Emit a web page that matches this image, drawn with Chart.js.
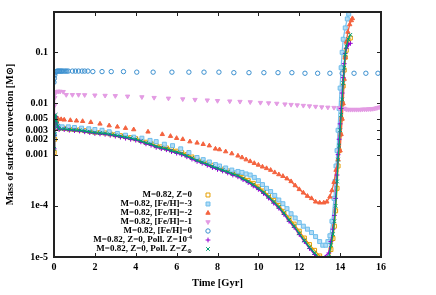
<!DOCTYPE html>
<html>
<head>
<meta charset="utf-8">
<script src="https://cdn.jsdelivr.net/npm/chart.js@4/dist/chart.umd.min.js"></script>
<style>
  html, body { margin: 0; padding: 0; background: #fff; }
  #chart { display: block; }
</style>
</head>
<body>
<canvas id="chart" width="436" height="295"></canvas>
<script>
// axis ticks
const xTicks = [0, 2, 4, 6, 8, 10, 12, 14, 16];
const yTicks = [1e-5, 1e-4, 0.001, 0.002, 0.003, 0.005, 0.01, 0.1];
const yTickLabels = ['1e-5', '1e-4', '0.001', '0.002', '0.003', '0.005', '0.01', '0.1'];

const seriesLabels = [
  'M=0.82, Z=0',
  'M=0.82, [Fe/H]=-3',
  'M=0.82, [Fe/H]=-2',
  'M=0.82, [Fe/H]=-1',
  'M=0.82, [Fe/H]=0',
  'M=0.82, Z=0, Poll. Z=10^-4',
  'M=0.82, Z=0, Poll. Z=Z_⊙'
];

// Z=0 family (shared time grid) [Gyr]
const timeZ0 = [0.01, 0.03, 0.05, 0.08, 0.12, 0.18,
  0.25, 0.5, 0.75, 1, 1.25, 1.5, 1.75, 2, 2.25, 2.5, 2.75, 3, 3.25, 3.5, 3.75, 4,
  4.25, 4.5, 4.75, 5, 5.25, 5.5, 5.75, 6, 6.25, 6.5, 6.75, 7, 7.25, 7.5, 7.75, 8,
  8.25, 8.5, 8.75, 9, 9.25, 9.5, 9.75, 10, 10.25, 10.5, 10.75, 11, 11.25, 11.5, 11.75, 12,
  12.25, 12.5, 12.75, 13,
  13.45, 13.55, 13.65, 13.72, 13.78, 13.85, 13.9, 13.95, 14, 14.05, 14.1, 14.15, 14.2, 14.25, 14.3, 14.4, 14.5];

const massZ0 = [0.0011, 0.002, 0.004, 0.0052, 0.0042, 0.0034,
  3.3e-3, 3.25e-3, 3.15e-3, 3.1e-3, 3.05e-3, 2.95e-3, 2.85e-3, 2.75e-3, 2.7e-3, 2.65e-3, 2.55e-3, 2.45e-3,
  2.35e-3, 2.25e-3, 2.15e-3, 2.05e-3, 1.9e-3, 1.75e-3, 1.65e-3, 1.5e-3, 1.42e-3, 1.35e-3, 1.25e-3, 1.17e-3,
  1.1e-3, 1.0e-3, 9.0e-4, 8.1e-4, 7.4e-4, 6.8e-4, 6.2e-4, 5.7e-4, 5.2e-4, 4.8e-4, 4.4e-4, 4.05e-4,
  3.6e-4, 3.15e-4, 2.75e-4, 2.35e-4, 1.95e-4, 1.6e-4, 1.28e-4, 1.02e-4, 7.8e-5, 5.8e-5, 4.4e-5, 3.2e-5,
  2.35e-5, 1.75e-5, 1.35e-5, 1.05e-5,
  9e-6, 1.4e-5, 2.3e-5, 4e-5, 8e-5, 2.2e-4, 6e-4, 1.2e-3, 2.5e-3, 5e-3, 1e-2, 2.2e-2, 4.5e-2, 8e-2, 0.11, 0.16, 0.19];

const massPoll4 = [0.0013, 0.0024, 0.0048, 0.0055, 0.0043, 0.0035,
  3.1e-3, 3.1e-3, 3.0e-3, 2.95e-3, 2.9e-3, 2.8e-3, 2.7e-3, 2.6e-3, 2.55e-3, 2.5e-3, 2.4e-3, 2.3e-3,
  2.2e-3, 2.1e-3, 2.0e-3, 1.92e-3, 1.78e-3, 1.63e-3, 1.53e-3, 1.39e-3, 1.31e-3, 1.25e-3, 1.15e-3, 1.07e-3,
  1.0e-3, 9.1e-4, 8.2e-4, 7.4e-4, 6.8e-4, 6.2e-4, 5.6e-4, 5.15e-4, 4.8e-4, 4.4e-4, 4.0e-4, 3.7e-4,
  3.25e-4, 2.85e-4, 2.45e-4, 2.1e-4, 1.75e-4, 1.42e-4, 1.13e-4, 9.0e-5, 6.8e-5, 5.0e-5, 3.8e-5, 2.75e-5,
  2.0e-5, 1.47e-5, 1.12e-5, 8.7e-6,
  1.2e-5, 2e-5, 3.5e-5, 6.5e-5, 1.4e-4, 4e-4, 1e-3, 2e-3, 4e-3, 8e-3, 1.6e-2, 3.2e-2, 6e-2, 9.5e-2, 0.12, 0.14, 0.15];

const massPollSun = [0.0013, 0.0025, 0.0047, 0.006, 0.0046, 0.0036,
  3.2e-3, 3.2e-3, 3.1e-3, 3.05e-3, 3.0e-3, 2.9e-3, 2.8e-3, 2.7e-3, 2.65e-3, 2.6e-3, 2.5e-3, 2.4e-3,
  2.3e-3, 2.2e-3, 2.1e-3, 2.0e-3, 1.85e-3, 1.7e-3, 1.6e-3, 1.45e-3, 1.37e-3, 1.3e-3, 1.2e-3, 1.12e-3,
  1.05e-3, 9.5e-4, 8.6e-4, 7.7e-4, 7.1e-4, 6.5e-4, 5.9e-4, 5.4e-4, 5.0e-4, 4.6e-4, 4.2e-4, 3.9e-4,
  3.4e-4, 3.0e-4, 2.6e-4, 2.2e-4, 1.85e-4, 1.5e-4, 1.2e-4, 9.5e-5, 7.2e-5, 5.3e-5, 4.0e-5, 2.9e-5,
  2.1e-5, 1.55e-5, 1.2e-5, 9.2e-6,
  1.0e-5, 1.7e-5, 2.8e-5, 5e-5, 1e-4, 3e-4, 8e-4, 1.5e-3, 3e-3, 6e-3, 1.2e-2, 2.5e-2, 5e-2, 9e-2, 0.13, 0.18, 0.22];

// [Fe/H]=-3
const timeFeH3 = [0.01, 0.03, 0.06, 0.1, 0.2, 0.4, 0.7, 1.0, 1.35, 1.7, 2.0, 2.35, 2.7, 3.1, 3.5,
  3.9, 4.3, 4.7, 5.0, 5.4, 5.8, 6.2, 6.6, 7.0, 7.3, 7.6, 7.9, 8.1, 8.4, 8.7, 9.0, 9.2, 9.4, 9.6, 9.8,
  10.0, 10.2, 10.4, 10.6, 10.8, 11.0, 11.2, 11.4, 11.6, 11.8, 12.0, 12.2, 12.4, 12.6, 12.8,
  13.0, 13.15, 13.3, 13.4, 13.5, 13.6, 13.7, 13.75, 13.8, 13.85, 13.9, 13.95, 14.0, 14.05, 14.1,
  14.15, 14.25, 14.35, 14.42];
const massFeH3 = [0.0025, 0.0045, 0.004, 0.0037, 0.0036, 0.0035, 0.0035, 0.0034, 0.0033, 0.0032,
  0.0031, 0.0030, 0.0028, 0.0026, 0.0024, 0.0022, 0.0021, 0.0019, 0.0018, 0.0016,
  0.0015, 0.0013, 0.0011, 0.00088, 0.0008, 0.00072, 0.00064, 0.0006, 0.00055, 0.0005,
  0.00047, 0.00045, 0.00042, 0.0004, 0.00036, 0.00031, 0.00026, 0.00022, 0.00019, 0.00016,
  0.00013, 0.00011, 0.000088, 0.00007, 0.000058, 0.000047, 0.00004, 0.000035, 0.00003, 0.000025,
  0.00002, 0.000017, 0.000017, 0.00002, 0.000026, 0.00005, 0.00014, 0.0003, 0.0006, 0.0012,
  0.003, 0.008, 0.02, 0.05, 0.1, 0.18, 0.3, 0.45, 0.56];

// [Fe/H]=-2
const timeFeH2 = [0.01, 0.03, 0.06, 0.1, 0.2, 0.35, 0.5, 0.8, 1.1, 1.4, 1.8, 2.25, 2.7, 3.1, 3.5,
  3.9, 4.6, 5.3, 5.7, 6.0, 6.3, 6.65, 7.0, 7.3, 7.6, 7.9, 8.1, 8.4, 8.7, 9.0, 9.2, 9.4, 9.6, 9.8, 10.0,
  10.2, 10.4, 10.6, 10.8, 11.0, 11.2, 11.4, 11.6, 11.8, 12.0, 12.2, 12.4, 12.6, 12.8, 13.0,
  13.2, 13.35, 13.5, 13.6, 13.7, 13.8, 13.9, 14.0, 14.05, 14.1, 14.15, 14.2, 14.25, 14.3, 14.38,
  14.47, 14.55, 14.6];
const massFeH2 = [0.004, 0.0056, 0.0052, 0.005, 0.005, 0.0049, 0.0048, 0.0047, 0.0046, 0.0045,
  0.0043, 0.004, 0.0037, 0.0035, 0.0033, 0.0031, 0.0028, 0.0025, 0.0023, 0.0021,
  0.002, 0.0018, 0.0017, 0.0016, 0.0015, 0.0013, 0.00126, 0.00115, 0.00105, 0.00095,
  0.00088, 0.0008, 0.00074, 0.00068, 0.00063, 0.00058, 0.00054, 0.0005, 0.00045, 0.00041,
  0.00038, 0.00034, 0.0003, 0.00025, 0.00021, 0.00018, 0.000155, 0.00014, 0.00012, 0.000115,
  0.000115, 0.00012, 0.00015, 0.0002, 0.00029, 0.0005, 0.0008, 0.0012, 0.0025, 0.005,
  0.01, 0.03, 0.08, 0.16, 0.25, 0.35, 0.42, 0.46];

// [Fe/H]=-1
const timeFeH1 = [0, 0.02, 0.04, 0.07, 0.1, 0.2, 0.3, 0.45, 0.6, 0.9, 1.2, 1.5, 2.0, 2.5, 3.0,
  3.6, 4.3, 4.9, 5.6, 6.3, 6.9, 7.5, 8.0, 8.6, 9.1, 9.6, 10.1, 10.5, 10.9, 11.3,
  11.6, 11.9, 12.2, 12.5, 12.8, 13.1, 13.4, 13.7, 13.95, 14.2,
  14.3, 14.4, 14.5, 14.6, 14.7, 14.8, 14.9, 15.0, 15.1, 15.2, 15.3, 15.4, 15.5, 15.6, 15.7, 15.8, 15.9, 16.0];
const massFeH1 = [0.006, 0.009, 0.013, 0.016, 0.017, 0.0172, 0.0172, 0.017, 0.0148, 0.0148,
  0.0148, 0.0147, 0.0145, 0.0143, 0.0141, 0.0138, 0.0134, 0.013, 0.0126, 0.0122,
  0.0119, 0.0116, 0.0113, 0.0111, 0.0109, 0.0107, 0.0104, 0.0102, 0.01, 0.0097,
  0.0095, 0.0093, 0.0091, 0.0089, 0.0087, 0.0085, 0.0084, 0.0083, 0.0082, 0.008,
  0.0077, 0.0076, 0.0076, 0.0076, 0.0076, 0.0076, 0.0076, 0.0076, 0.0077, 0.0077,
  0.0077, 0.0078, 0.0078, 0.0079, 0.008, 0.0082, 0.0084, 0.0086];

// [Fe/H]=0
const timeFeH0 = [0, 0.02, 0.04, 0.06, 0.1, 0.15, 0.2, 0.25, 0.3, 0.35, 0.4, 0.47, 0.55, 0.62, 0.7,
  0.9, 1.05, 1.2, 1.37, 1.5, 1.66, 1.9, 2.35, 2.8, 3.4, 4.05, 4.85, 5.77, 6.6, 7.34,
  8.07, 8.8, 9.54, 10.27, 10.96, 11.64, 12.28, 12.9, 13.5, 14.1, 14.68, 15.26, 15.85];
const massFeH0 = [0.026, 0.031, 0.036, 0.04, 0.042,
  0.043, 0.043, 0.043, 0.043, 0.043, 0.043, 0.043, 0.043, 0.043, 0.043,
  0.043, 0.043, 0.043, 0.043, 0.043, 0.043,
  0.042, 0.042, 0.042, 0.042,
  0.041, 0.041, 0.041, 0.041, 0.041, 0.041,
  0.04, 0.04, 0.04, 0.04, 0.04,
  0.039, 0.039, 0.039, 0.039, 0.039, 0.039, 0.039];

const FONT = '"Liberation Serif", "DejaVu Serif", serif';

function pts(times, masses) {
  return times.map((t, i) => ({x: t, y: masses[i]}));
}

function series(label, times, masses, style) {
  return Object.assign({
    label: label,
    data: pts(times, masses),
    showLine: false,
    borderWidth: 1.3,
    pointBorderWidth: 1,
    pointHoverRadius: 0
  }, style);
}

const hide = 'rgba(0,0,0,0)';

const datasets = [
  series(seriesLabels[0], timeZ0, massZ0, {
    order: 7, showLine: true, borderColor: '#e69f00', pointStyle: 'rect', pointRadius: 2.8,
    pointBorderColor: '#e69f00', pointBackgroundColor: hide
  }),
  series(seriesLabels[1], timeFeH3, massFeH3, {
    order: 6, showLine: true, borderColor: '#7cc3ee', pointStyle: 'rect', pointRadius: 2.8,
    pointBorderColor: '#6dbdec', pointBackgroundColor: '#b3dcf5',
    segment: {borderColor: c => (c.p0.parsed.x > 0.3 && c.p1.parsed.x < 9) ? hide : undefined}
  }),
  series(seriesLabels[2], timeFeH2, massFeH2, {
    order: 5, showLine: true, borderColor: '#f4633f', pointStyle: 'triangle', pointRadius: 2.5,
    pointBorderColor: '#f4633f', pointBackgroundColor: '#f4633f',
    segment: {borderColor: c => (c.p0.parsed.x > 0.3 && c.p1.parsed.x < 11.3) ? hide : undefined}
  }),
  series(seriesLabels[3], timeFeH1, massFeH1, {
    order: 4, showLine: true, borderColor: '#e39be3', pointStyle: 'triangle', pointRotation: 180, pointRadius: 2.5,
    pointBorderColor: '#e39be3', pointBackgroundColor: '#e39be3',
    segment: {borderColor: c => (c.p0.parsed.x >= 0.45 && c.p1.parsed.x <= 14.2) ? hide : undefined}
  }),
  series(seriesLabels[4], timeFeH0, massFeH0, {
    order: 3, showLine: true, borderColor: '#1a76bd', pointStyle: 'circle', pointRadius: 2.2,
    pointBorderColor: '#3a8fcf', pointBackgroundColor: hide,
    segment: {borderColor: c => c.p0.parsed.x >= 0.1 ? hide : undefined}
  }),
  series(seriesLabels[5], timeZ0, massPoll4, {
    order: 2, showLine: true, borderColor: '#9400d3', pointStyle: 'cross', pointRadius: 2.4,
    pointBorderColor: '#9400d3', pointBackgroundColor: '#9400d3'
  }),
  series(seriesLabels[6], timeZ0, massPollSun, {
    order: 1, showLine: true, borderColor: '#009e73', pointStyle: 'crossRot', pointRadius: 2.6,
    pointBorderColor: '#009e73', pointBackgroundColor: '#009e73'
  })
];

const framePlugin = {
  id: 'frame',
  afterDatasetsDraw(chart) {
    const {ctx, chartArea: a, scales: {x, y}} = chart;
    ctx.save();
    ctx.strokeStyle = '#222';
    ctx.lineWidth = 1;
    ctx.beginPath();
    xTicks.forEach(v => {
      const px = Math.round(x.getPixelForValue(v)) + 0.5;
      ctx.moveTo(px, a.bottom); ctx.lineTo(px, a.bottom - 4);
      ctx.moveTo(px, a.top); ctx.lineTo(px, a.top + 4);
    });
    yTicks.forEach(v => {
      const py = Math.round(y.getPixelForValue(v)) + 0.5;
      ctx.moveTo(a.left, py); ctx.lineTo(a.left + 4, py);
      ctx.moveTo(a.right, py); ctx.lineTo(a.right - 4, py);
    });
    ctx.stroke();
    ctx.lineWidth = 2;
    ctx.strokeRect(a.left, a.top, a.right - a.left, a.bottom - a.top);
    ctx.restore();
  }
};

// key drawn inside the plot, text right-aligned, marker to the right
const keyPlugin = {
  id: 'key',
  afterDraw(chart) {
    const ctx = chart.ctx;
    const textRight = 192, markX = 208, top = 195, step = 9;
    const big = 'bold 9px ' + FONT, small = 'bold 6px ' + FONT;
    ctx.save();
    ctx.textBaseline = 'middle';
    ctx.fillStyle = '#000';
    chart.data.datasets.forEach((ds, i) => {
      const yy = top + i * step;
      const label = ds.label;
      let main = label, extra = '', dy = 0;
      if (label.indexOf('^') >= 0) { [main, extra] = label.split('^'); dy = -3; }
      else if (label.indexOf('_') >= 0) { [main, extra] = label.split('_'); dy = 2; }
      ctx.font = small;
      const wExtra = extra ? ctx.measureText(extra).width : 0;
      ctx.font = big;
      const wMain = ctx.measureText(main).width;
      ctx.textAlign = 'left';
      ctx.fillText(main, textRight - wExtra - wMain, yy);
      if (extra) {
        ctx.font = small;
        ctx.fillText(extra, textRight - wExtra, yy + dy);
      }
      ctx.save();
      ctx.fillStyle = ds.pointBackgroundColor;
      ctx.strokeStyle = ds.pointBorderColor;
      ctx.lineWidth = ds.pointBorderWidth;
      Chart.helpers.drawPoint(ctx, {
        pointStyle: ds.pointStyle, rotation: ds.pointRotation || 0,
        radius: ds.pointRadius, borderWidth: ds.pointBorderWidth
      }, markX, yy);
      ctx.restore();
    });
    ctx.restore();
  }
};

new Chart(document.getElementById('chart'), {
  type: 'scatter',
  data: {datasets: datasets},
  options: {
    responsive: false,
    animation: false,
    devicePixelRatio: 1,
    events: [],
    layout: {padding: {left: 0, right: 55, top: 8, bottom: 0}},
    plugins: {legend: {display: false}, tooltip: {enabled: false}},
    scales: {
      x: {
        type: 'linear',
        min: 0,
        max: 16,
        afterFit: s => { s.height = 38; },
        afterBuildTicks: s => { s.ticks = xTicks.map(v => ({value: v})); },
        grid: {display: false, drawTicks: false},
        border: {display: false},
        ticks: {
          autoSkip: false, maxRotation: 0, padding: 4, color: '#000',
          font: {family: FONT, size: 10, weight: 'bold'},
          callback: v => String(v)
        },
        title: {
          display: true, text: 'Time [Gyr]', color: '#000',
          font: {family: FONT, size: 10.5, weight: 'bold'},
          padding: {top: 0, bottom: 5}
        }
      },
      y: {
        type: 'logarithmic',
        min: 1e-5,
        max: 0.614,
        afterFit: s => { s.width = 54; },
        afterBuildTicks: s => { s.ticks = yTicks.map(v => ({value: v})); },
        grid: {display: false, drawTicks: false},
        border: {display: false},
        ticks: {
          autoSkip: false, padding: 6, color: '#000',
          font: {family: FONT, size: 10, weight: 'bold'},
          callback: (v, i) => yTickLabels[i]
        },
        title: {
          display: true, text: 'Mass of surface convection [M⊙]', color: '#000',
          font: {family: FONT, size: 10, weight: 'bold'},
          padding: {top: 4, bottom: 0}
        }
      }
    }
  },
  plugins: [framePlugin, keyPlugin]
});
</script>
</body>
</html>
